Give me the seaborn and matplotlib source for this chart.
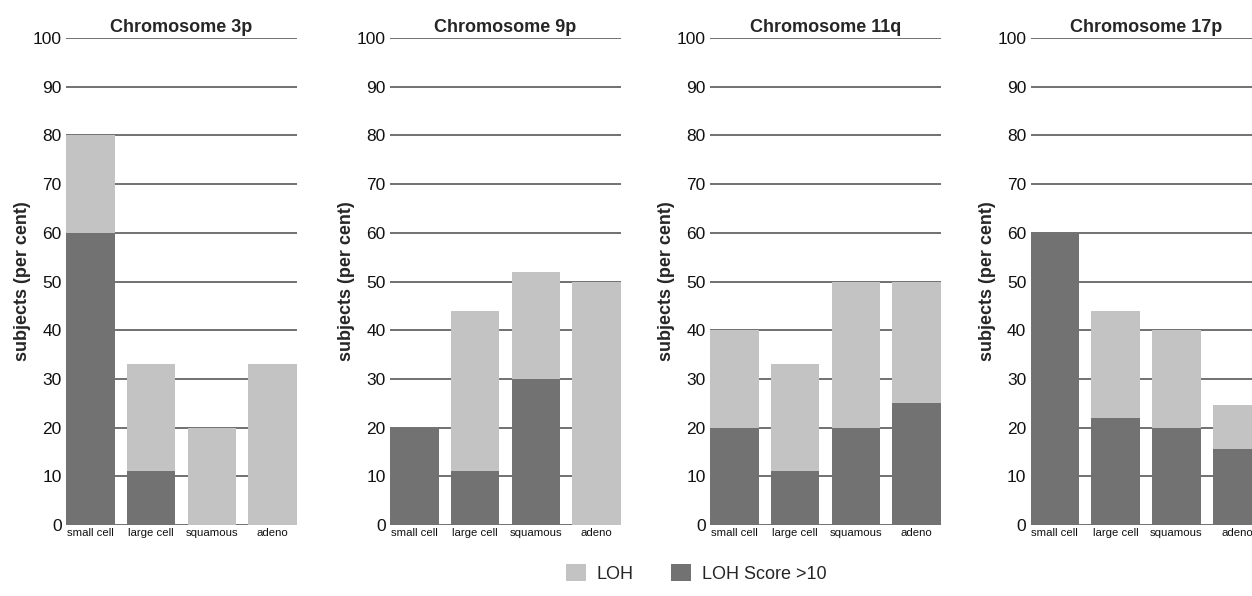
import matplotlib
matplotlib.use("Agg")
import matplotlib.pyplot as plt
import pandas as pd
import seaborn as sns
from matplotlib.patches import Patch

CATEGORIES = ["small cell", "large cell", "squamous", "adeno"]
PANELS = ["Chromosome 3p", "Chromosome 9p", "Chromosome 11q", "Chromosome 17p"]

# total LOH (light bar height) per panel
LOH_3P = [80, 33, 20, 33]
LOH_9P = [20, 44, 52, 50]
LOH_11Q = [40, 33, 50, 50]
LOH_17P = [60, 44, 40, 24.7]

# LOH score > 10 (dark part)
SCORE_3P = [60, 11, 0, 0]
SCORE_9P = [20, 11, 30, 0]
SCORE_11Q = [20, 11, 20, 25]
SCORE_17P = [60, 22, 20, 15.6]

LOH_ALL = [LOH_3P, LOH_9P, LOH_11Q, LOH_17P]
SCORE_ALL = [SCORE_3P, SCORE_9P, SCORE_11Q, SCORE_17P]

LIGHT = "#c3c3c3"
DARK = "#727272"
GRID = "#4a4a4a"

sns.set_theme(style="white")
plt.rcParams["font.family"] = ["Liberation Sans", "DejaVu Sans"]

fig = plt.figure(figsize=(12.52, 5.96), dpi=100)

W, H = 1252, 596
lefts = [66, 390, 710, 1030.5]
ax_w = 231
y_top, y_bot = 38, 525

for i, title in enumerate(PANELS):
    df = pd.DataFrame({"type": CATEGORIES, "loh": LOH_ALL[i], "score": SCORE_ALL[i]})
    ax = fig.add_axes([lefts[i] / W, 1 - y_bot / H, ax_w / W, (y_bot - y_top) / H])
    sns.barplot(data=df, x="type", y="loh", color=LIGHT, width=0.8,
                linewidth=0, saturation=1, ax=ax, zorder=2)
    sns.barplot(data=df, x="type", y="score", color=DARK, width=0.8,
                linewidth=0, saturation=1, ax=ax, zorder=3)
    ax.set_xlim(-0.4, 3.4)
    ax.set_ylim(0, 100)
    ax.set_yticks(range(0, 101, 10))
    ax.yaxis.grid(True, color=GRID, linewidth=1.1, zorder=1)
    ax.xaxis.grid(False)
    ax.set_axisbelow(True)
    for s in ax.spines.values():
        s.set_visible(False)
    ax.tick_params(axis="y", length=0, pad=3, labelsize=12.5, labelcolor="#111111")
    ax.tick_params(axis="x", length=0, pad=2, labelsize=8.2, labelcolor="#111111")
    ax.set_xlabel("")
    ax.set_ylabel("subjects (per cent)", fontsize=13, fontweight="bold", labelpad=1)
    ax.set_title(title, fontsize=13, fontweight="bold", pad=4)

handles = [Patch(facecolor=LIGHT, edgecolor="none", label="LOH"),
           Patch(facecolor=DARK, edgecolor="none", label="LOH Score >10")]
fig.legend(handles=handles, loc="center", bbox_to_anchor=(0.556, 0.038), ncol=2,
           frameon=False, fontsize=13, handlelength=1.1, handleheight=1.1,
           columnspacing=2.1, handletextpad=0.6)

fig.savefig("out.png", dpi=100)
